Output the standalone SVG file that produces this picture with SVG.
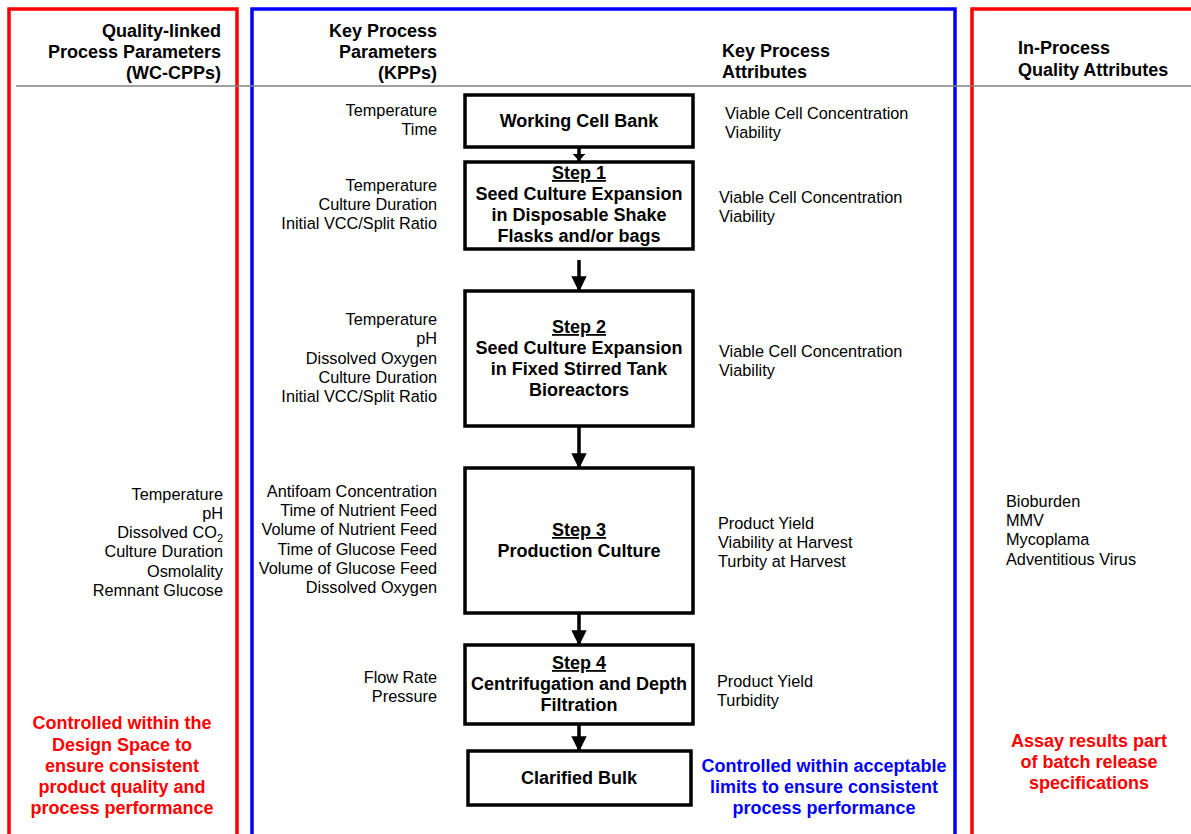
<svg xmlns="http://www.w3.org/2000/svg" width="1191" height="834" viewBox="0 0 1191 834">
<defs>
<style>
text{font-family:"Liberation Sans",Arial,sans-serif;fill:#000}
.h{font-size:18px;font-weight:bold}
.t{font-size:16.3px}
.b{font-size:18px;font-weight:bold}
.box{fill:#fff;stroke:#000;stroke-width:3.5}
.r{fill:#ff0000;font-size:18px;font-weight:bold}
.bl{fill:#0000ff;font-size:18px;font-weight:bold}
.con{stroke:#000;stroke-width:3.5;fill:none}
</style>
<marker id="ah" markerWidth="4.4" markerHeight="4.4" refX="4.2" refY="2.2" orient="auto" markerUnits="strokeWidth"><path d="M0,0 L4.4,2.2 L0,4.4 Z" fill="#000"/></marker>
<marker id="ahs" markerWidth="2" markerHeight="3.6" refX="2" refY="1.8" orient="auto" markerUnits="strokeWidth"><path d="M0,0 L2,1.8 L0,3.6 Z" fill="#000"/></marker>
</defs>
<rect width="1191" height="834" fill="#fff"/>
<g id="frames" fill="none" stroke-width="3.5">
<path d="M9,840 V9 H237 V840" stroke="#ff0000"/>
<path d="M252,840 V9 H955 V840" stroke="#0000ff"/>
<path d="M972,840 V9 H1200" stroke="#ff0000"/>
</g>
<line x1="16" y1="86" x2="1191" y2="86" stroke="#808080" stroke-width="1.5"/>
<g id="headers">
<text class="h" text-anchor="end" x="221" y="37">Quality-linked</text>
<text class="h" text-anchor="end" x="221" y="58">Process Parameters</text>
<text class="h" text-anchor="end" x="221" y="79">(WC-CPPs)</text>
<text class="h" text-anchor="end" x="437" y="37">Key Process</text>
<text class="h" text-anchor="end" x="437" y="58">Parameters</text>
<text class="h" text-anchor="end" x="437" y="79">(KPPs)</text>
<text class="h" x="722" y="57">Key Process</text>
<text class="h" x="722" y="78">Attributes</text>
<text class="h" x="1018" y="54">In-Process</text>
<text class="h" x="1018" y="76">Quality Attributes</text>
</g>
<g id="connectors">
<line class="con" x1="579" y1="147" x2="579" y2="161" marker-end="url(#ahs)"/>
<line class="con" x1="579" y1="260" x2="579" y2="291" marker-end="url(#ah)"/>
<line class="con" x1="579" y1="426" x2="579" y2="468" marker-end="url(#ah)"/>
<line class="con" x1="579" y1="613" x2="579" y2="645" marker-end="url(#ah)"/>
<line class="con" x1="579" y1="724" x2="579" y2="751" marker-end="url(#ah)"/>
</g>
<g id="wcb">
<rect class="box" x="465" y="95" width="228" height="52"/>
<text class="b" text-anchor="middle" x="579" y="127">Working Cell Bank</text>
</g>
<g id="step1">
<rect class="box" x="465" y="162" width="228" height="87"/>
<text class="b" text-anchor="middle" x="579" y="179" text-decoration="underline">Step 1</text>
<text class="b" text-anchor="middle" x="579" y="200">Seed Culture Expansion</text>
<text class="b" text-anchor="middle" x="579" y="221">in Disposable Shake</text>
<text class="b" text-anchor="middle" x="579" y="242">Flasks and/or bags</text>
</g>
<g id="step2">
<rect class="box" x="465" y="291" width="228" height="135"/>
<text class="b" text-anchor="middle" x="579" y="333" text-decoration="underline">Step 2</text>
<text class="b" text-anchor="middle" x="579" y="354">Seed Culture Expansion</text>
<text class="b" text-anchor="middle" x="579" y="375">in Fixed Stirred Tank</text>
<text class="b" text-anchor="middle" x="579" y="396">Bioreactors</text>
</g>
<g id="step3">
<rect class="box" x="465" y="468" width="228" height="145"/>
<text class="b" text-anchor="middle" x="579" y="536" text-decoration="underline">Step 3</text>
<text class="b" text-anchor="middle" x="579" y="557">Production Culture</text>
</g>
<g id="step4">
<rect class="box" x="465" y="645" width="228" height="79"/>
<text class="b" text-anchor="middle" x="579" y="669" text-decoration="underline">Step 4</text>
<text class="b" text-anchor="middle" x="579" y="690">Centrifugation and Depth</text>
<text class="b" text-anchor="middle" x="579" y="711">Filtration</text>
</g>
<g id="bulk">
<rect class="box" x="468" y="751" width="223" height="54"/>
<text class="b" text-anchor="middle" x="579" y="784">Clarified Bulk</text>
</g>
<g id="kpp" text-anchor="end">
<text class="t" x="437" y="116">Temperature</text>
<text class="t" x="437" y="135">Time</text>
<text class="t" x="437" y="191">Temperature</text>
<text class="t" x="437" y="210">Culture Duration</text>
<text class="t" x="437" y="229">Initial VCC/Split Ratio</text>
<text class="t" x="437" y="325">Temperature</text>
<text class="t" x="437" y="344">pH</text>
<text class="t" x="437" y="364">Dissolved Oxygen</text>
<text class="t" x="437" y="383">Culture Duration</text>
<text class="t" x="437" y="402">Initial VCC/Split Ratio</text>
<text class="t" x="437" y="497">Antifoam Concentration</text>
<text class="t" x="437" y="516">Time of Nutrient Feed</text>
<text class="t" x="437" y="535">Volume of Nutrient Feed</text>
<text class="t" x="437" y="555">Time of Glucose Feed</text>
<text class="t" x="437" y="574">Volume of Glucose Feed</text>
<text class="t" x="437" y="593">Dissolved Oxygen</text>
<text class="t" x="437" y="683">Flow Rate</text>
<text class="t" x="437" y="702">Pressure</text>
</g>
<g id="kpa">
<text class="t" x="725" y="119">Viable Cell Concentration</text>
<text class="t" x="725" y="138">Viability</text>
<text class="t" x="719" y="203">Viable Cell Concentration</text>
<text class="t" x="719" y="222">Viability</text>
<text class="t" x="719" y="357">Viable Cell Concentration</text>
<text class="t" x="719" y="376">Viability</text>
<text class="t" x="718" y="529">Product Yield</text>
<text class="t" x="718" y="548">Viability at Harvest</text>
<text class="t" x="718" y="567">Turbity at Harvest</text>
<text class="t" x="717" y="687">Product Yield</text>
<text class="t" x="717" y="706">Turbidity</text>
</g>
<g id="wccpp" text-anchor="end">
<text class="t" x="223" y="500">Temperature</text>
<text class="t" x="223" y="519">pH</text>
<text class="t" x="223" y="538">Dissolved CO<tspan font-size="11" dy="4">2</tspan></text>
<text class="t" x="223" y="557">Culture Duration</text>
<text class="t" x="223" y="577">Osmolality</text>
<text class="t" x="223" y="596">Remnant Glucose</text>
</g>
<g id="iqa">
<text class="t" x="1006" y="507">Bioburden</text>
<text class="t" x="1006" y="526">MMV</text>
<text class="t" x="1006" y="545">Mycoplama</text>
<text class="t" x="1006" y="565">Adventitious Virus</text>
</g>
<g id="notes" text-anchor="middle">
<text class="r" x="122" y="729">Controlled within the</text>
<text class="r" x="122" y="751">Design Space to</text>
<text class="r" x="122" y="772">ensure consistent</text>
<text class="r" x="122" y="793">product quality and</text>
<text class="r" x="122" y="814">process performance</text>
<text class="bl" x="824" y="772">Controlled within acceptable</text>
<text class="bl" x="824" y="793">limits to ensure consistent</text>
<text class="bl" x="824" y="814">process performance</text>
<text class="r" x="1089" y="747">Assay results part</text>
<text class="r" x="1089" y="768">of batch release</text>
<text class="r" x="1089" y="789">specifications</text>
</g>
</svg>
